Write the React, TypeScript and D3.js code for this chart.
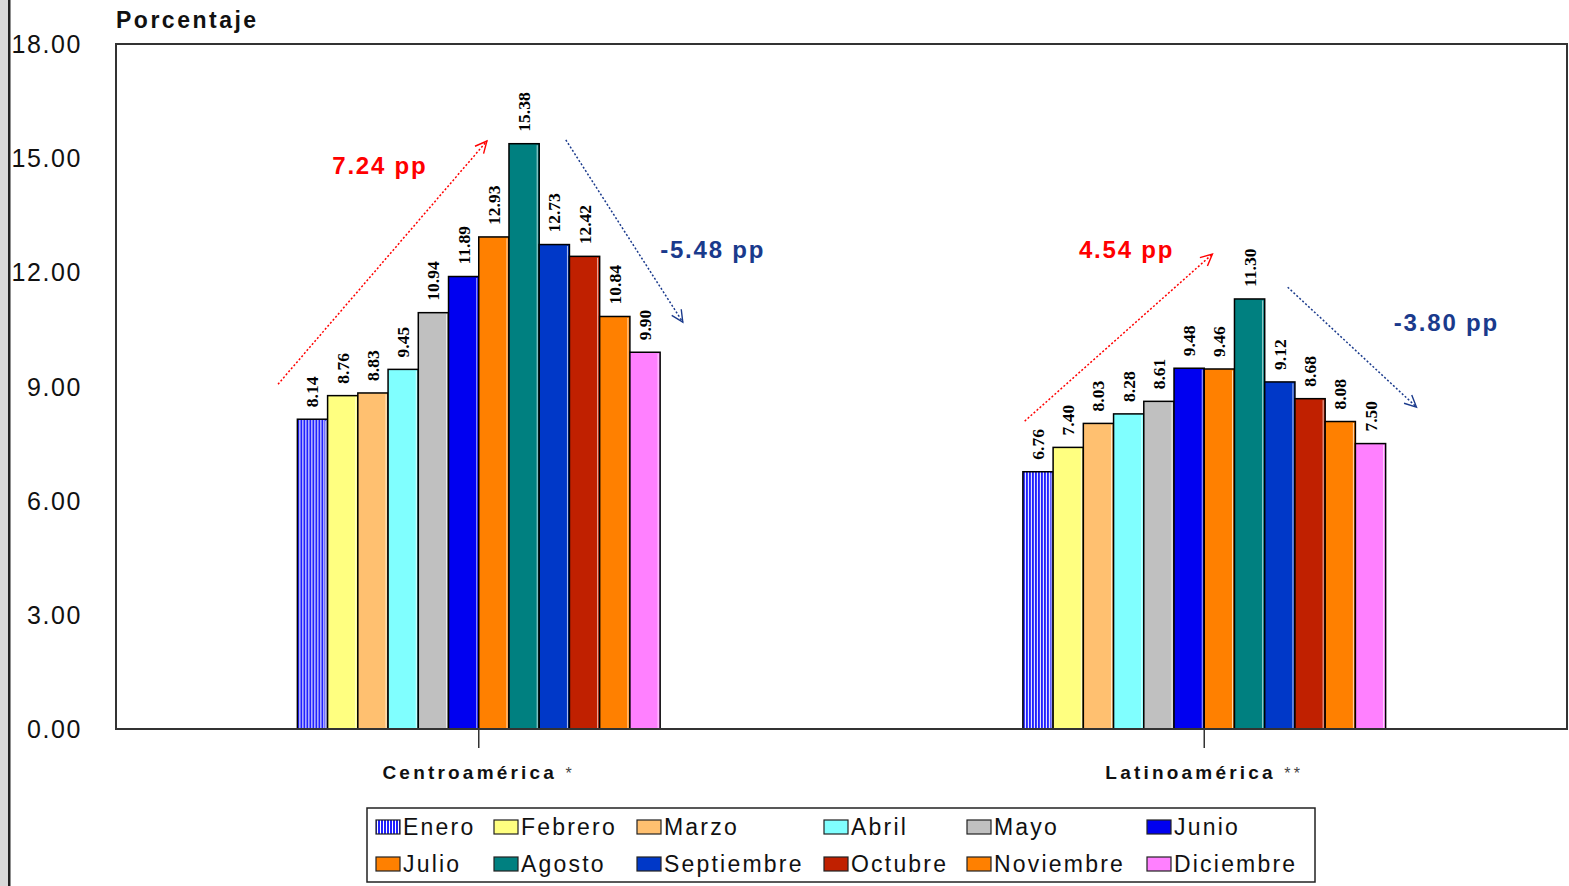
import React from "react";
import * as d3 from "d3";

// Monthly percentage values per region
const categories = ["Centroamérica *", "Latinoamérica **"];
const months = [
  "Enero", "Febrero", "Marzo", "Abril", "Mayo", "Junio",
  "Julio", "Agosto", "Septiembre", "Octubre", "Noviembre", "Diciembre",
];
const centroamerica = [8.14, 8.76, 8.83, 9.45, 10.94, 11.89, 12.93, 15.38, 12.73, 12.42, 10.84, 9.9];
const latinoamerica = [6.76, 7.4, 8.03, 8.28, 8.61, 9.48, 9.46, 11.3, 9.12, 8.68, 8.08, 7.5];
const yTicks = [0, 3, 6, 9, 12, 15, 18];
const monthColors = [
  "url(#stripes)", "#ffff80", "#ffc070", "#80ffff", "#c0c0c0", "#0000f0",
  "#ff8000", "#008080", "#0038c8", "#c02000", "#ff8000", "#ff80ff",
];

const W = 1569;
const H = 886;
const plot = { left: 116, right: 1567, top: 44, bottom: 729 };

// Arrow geometry in month-band units (x) and value units (y), relative to each group
const arrowLayout = [
  {
    up: { x1: -0.64, y1: 9.06, x2: 6.27, y2: 15.45, lx: 2.73, ly: 14.82 },
    down: { x1: 8.88, y1: 15.48, x2: 12.75, y2: 10.69, lx: 13.74, ly: 12.61 },
  },
  {
    up: { x1: 0.06, y1: 8.09, x2: 6.27, y2: 12.48, lx: 3.43, ly: 12.61 },
    down: { x1: 8.76, y1: 11.61, x2: 13.02, y2: 8.46, lx: 14.01, ly: 10.69 },
  },
];

const RED = "#ff0000";
const NAVY = "#1a3a8c";

// two-decimal format with a plain hyphen for negatives
const locale = d3.formatLocale({ decimal: ".", thousands: ",", grouping: [3], currency: ["", ""], minus: "-" });
const fmt = locale.format(".2f");

export default function App() {
  const series = [centroamerica, latinoamerica];
  const x0 = d3
    .scaleBand<string>()
    .domain(categories)
    .range([plot.left, plot.right])
    .paddingInner(0.5)
    .paddingOuter(0.25);
  const x1 = d3.scaleBand<string>().domain(months).range([0, x0.bandwidth()]);
  const bw = x1.bandwidth();
  const y = d3.scaleLinear().domain([0, 18]).range([plot.bottom, plot.top]);

  const groupX = (ci: number, u: number) => (x0(categories[ci]) as number) + u * bw;

  const arrowHead = (xa: number, ya: number, xb: number, yb: number, color: string) => {
    const ang = Math.atan2(yb - ya, xb - xa);
    const len = 13;
    const spread = 0.45;
    const p1 = [xb - len * Math.cos(ang - spread), yb - len * Math.sin(ang - spread)];
    const p2 = [xb - len * Math.cos(ang + spread), yb - len * Math.sin(ang + spread)];
    return (
      <path
        d={`M${p1[0]},${p1[1]} L${xb},${yb} L${p2[0]},${p2[1]}`}
        fill="none"
        stroke={color}
        strokeWidth={1.4}
      />
    );
  };

  const legendCols = [376, 494, 637, 824, 967, 1147];
  const legendRows = [827, 864];

  return (
    <div style={{ position: "absolute", left: 0, top: 0 }}>
      <svg width={W} height={H} style={{ display: "block" }} fontFamily="Arial, 'Liberation Sans', sans-serif">
        <defs>
          <pattern id="stripes" width={3} height={4} patternUnits="userSpaceOnUse">
            <rect width={3} height={4} fill="#ffffff" />
            <rect width={2} height={4} fill="#2020ff" />
          </pattern>
        </defs>
        <rect width={W} height={H} fill="#ffffff" />
        {/* left window edge */}
        <rect x={0} y={0} width={8} height={H} fill="#d9d9d9" />
        <rect x={8} y={0} width={2.5} height={H} fill="#222" />

        <text x={116} y={28} fontSize={23} fontWeight="bold" letterSpacing={2.5} fill="#111">
          Porcentaje
        </text>

        {/* y tick labels */}
        {yTicks.map((t) => (
          <text key={t} x={82} y={y(t)} dy="0.36em" textAnchor="end" fontSize={25} letterSpacing={1.6} fill="#111">
            {fmt(t)}
          </text>
        ))}

        {/* bars */}
        {series.map((vals, ci) => (
          <g key={ci} transform={`translate(${x0(categories[ci])},0)`}>
            {vals.map((v, mi) => {
              const bx = x1(months[mi]) as number;
              return (
                <g key={mi}>
                  <rect
                    x={bx}
                    y={y(v)}
                    width={bw}
                    height={y(0) - y(v)}
                    fill={monthColors[mi]}
                    stroke="#000"
                    strokeWidth={1.5}
                  />
                  <line
                    x1={bx + bw - 2}
                    x2={bx + bw - 2}
                    y1={y(v) + 1.5}
                    y2={y(0)}
                    stroke="#ffffff"
                    strokeOpacity={0.7}
                    strokeWidth={1}
                  />
                  <text
                    transform={`translate(${bx + bw / 2 + 6},${y(v) - 12}) rotate(-90)`}
                    fontFamily="'Liberation Serif', 'Times New Roman', serif"
                    fontWeight="bold"
                    fontSize={17.5}
                    fill="#000"
                  >
                    {fmt(v)}
                  </text>
                </g>
              );
            })}
          </g>
        ))}

        {/* plot frame */}
        <rect
          x={plot.left}
          y={plot.top}
          width={plot.right - plot.left}
          height={plot.bottom - plot.top}
          fill="none"
          stroke="#333"
          strokeWidth={2}
        />

        {/* category ticks and labels */}
        {categories.map((c) => {
          const cx = (x0(c) as number) + x0.bandwidth() / 2;
          return (
            <g key={c}>
              <line x1={cx} x2={cx} y1={plot.bottom} y2={plot.bottom + 19} stroke="#333" strokeWidth={1.5} />
              <text x={cx} y={779} textAnchor="middle" fontSize={19} fontWeight="bold" letterSpacing={3.2} fill="#111">
                {c.replace(/\*+$/, "")}
                <tspan fontWeight="normal" fontSize={16} fill="#444">
                  {c.match(/\*+$/)?.[0]}
                </tspan>
              </text>
            </g>
          );
        })}

        {/* change annotations */}
        {series.map((vals, ci) => {
          const peak = d3.max(vals) as number;
          const rise = peak - vals[0];
          const fall = vals[vals.length - 1] - peak;
          const { up, down } = arrowLayout[ci];
          const ux1 = groupX(ci, up.x1), uy1 = y(up.y1), ux2 = groupX(ci, up.x2), uy2 = y(up.y2);
          const dx1 = groupX(ci, down.x1), dy1 = y(down.y1), dx2 = groupX(ci, down.x2), dy2 = y(down.y2);
          return (
            <g key={ci}>
              <line x1={ux1} y1={uy1} x2={ux2} y2={uy2} stroke={RED} strokeWidth={1.5} strokeDasharray="2,2" />
              {arrowHead(ux1, uy1, ux2, uy2, RED)}
              <text x={groupX(ci, up.lx)} y={y(up.ly)} dy="0.36em" textAnchor="middle" fontSize={24} fontWeight="bold" letterSpacing={1.8} fill={RED}>
                {fmt(rise)} pp
              </text>
              <line x1={dx1} y1={dy1} x2={dx2} y2={dy2} stroke={NAVY} strokeWidth={1.5} strokeDasharray="2,2" />
              {arrowHead(dx1, dy1, dx2, dy2, NAVY)}
              <text x={groupX(ci, down.lx)} y={y(down.ly)} dy="0.36em" textAnchor="middle" fontSize={24} fontWeight="bold" letterSpacing={1.8} fill={NAVY}>
                {fmt(fall)} pp
              </text>
            </g>
          );
        })}

        {/* legend */}
        <rect x={367} y={808} width={948} height={74} fill="#fff" stroke="#222" strokeWidth={1.5} />
        {months.map((m, i) => {
          const lx = legendCols[i % 6];
          const ly = legendRows[Math.floor(i / 6)];
          return (
            <g key={m}>
              <rect x={lx} y={ly - 7} width={24} height={14} fill={monthColors[i]} stroke="#222" strokeWidth={1.2} />
              <text x={lx + 27} y={ly} dy="0.36em" fontSize={23} letterSpacing={2.2} fill="#111">
                {m}
              </text>
            </g>
          );
        })}
      </svg>
    </div>
  );
}
